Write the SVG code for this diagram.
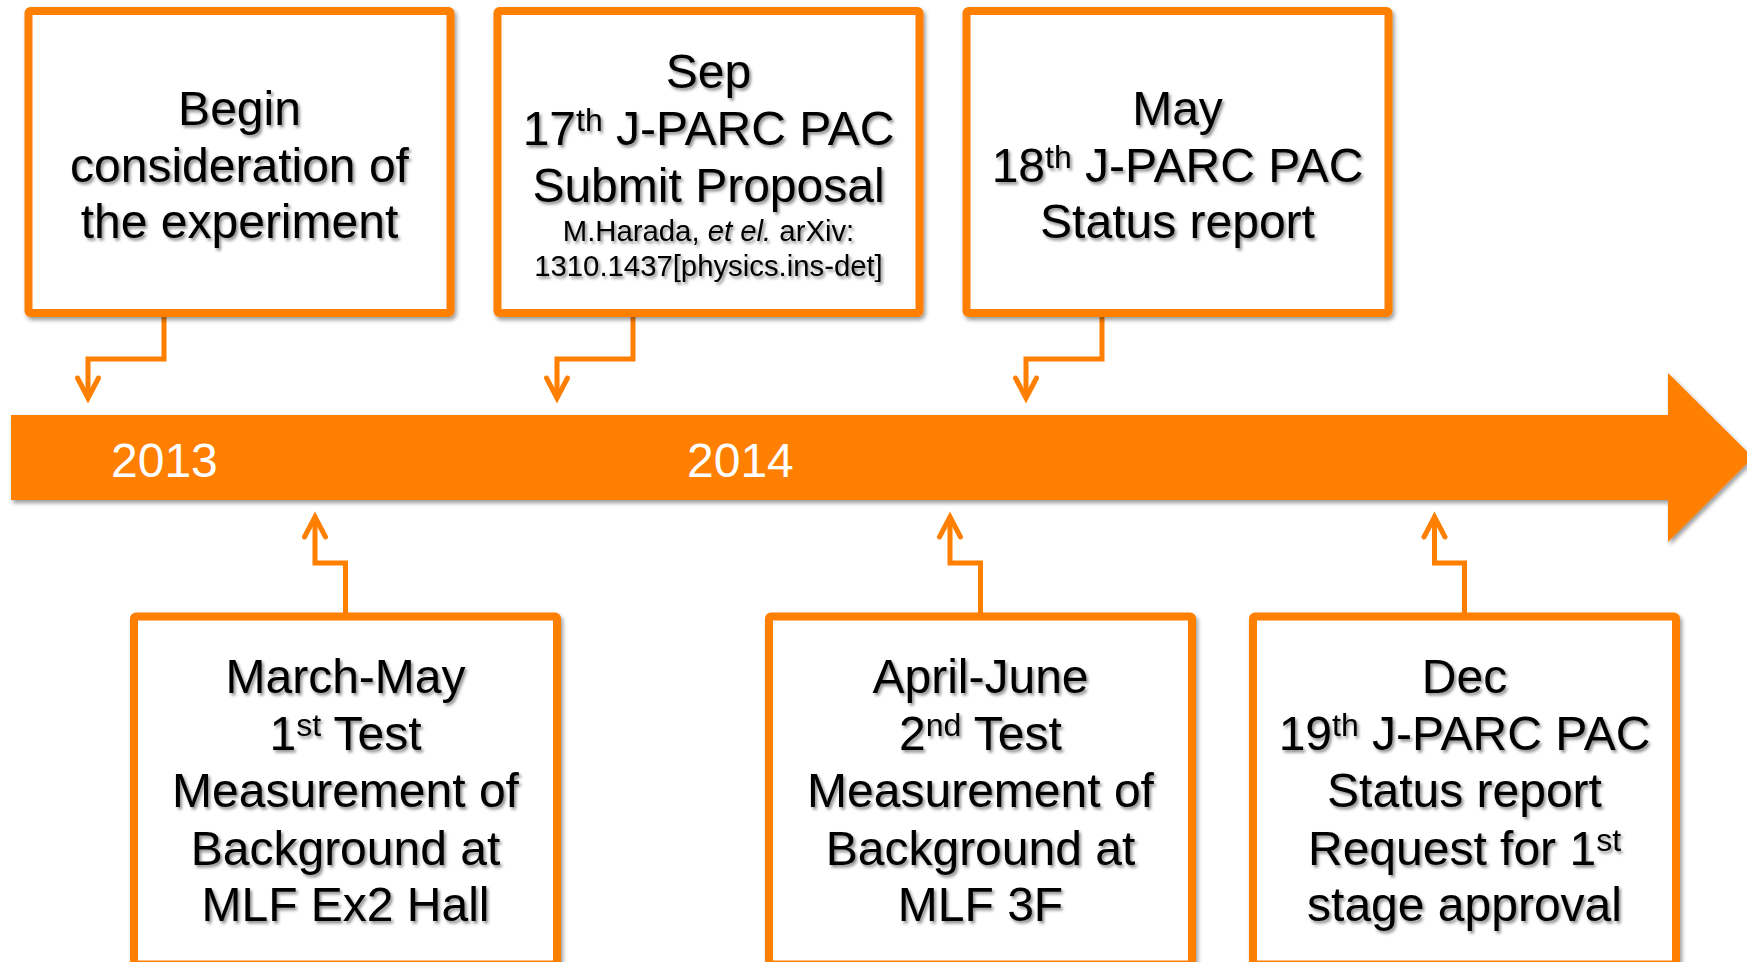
<svg xmlns="http://www.w3.org/2000/svg" width="1747" height="962" viewBox="0 0 1747 962">
  <defs>
    <filter id="shadow" x="-5%" y="-10%" width="115%" height="125%">
      <feDropShadow dx="2" dy="3" stdDeviation="2" flood-color="#000" flood-opacity="0.4"/>
    </filter>
    <filter id="tshadow" x="-5%" y="-20%" width="115%" height="150%">
      <feDropShadow dx="2" dy="2.5" stdDeviation="1.8" flood-color="#000" flood-opacity="0.45"/>
    </filter>
    <marker id="chev" markerUnits="userSpaceOnUse" orient="auto" refX="0" refY="0" markerWidth="40" markerHeight="40" overflow="visible">
      <path d="M-20,-10.5 L0,0 L-20,10.5" fill="none" stroke="#FF7F00" stroke-width="5" stroke-linecap="round"/>
    </marker>
  </defs>
  <style>
    .box{fill:#fff;stroke:#FF7F00;stroke-width:8;filter:url(#shadow)}
    .lbl{font-family:"Liberation Sans",Arial,sans-serif;font-size:48px;fill:#000;text-anchor:middle;filter:url(#tshadow)}
    .sm{font-size:29.3px}
    .sup{font-size:32px}
    .conn{fill:none;stroke:#FF7F00;stroke-width:5;stroke-linejoin:miter;marker-end:url(#chev)}
    .year{font-family:"Liberation Sans",Arial,sans-serif;font-size:48px;fill:#fff}
  </style>

  <rect width="1747" height="962" fill="#fff"/>

  <!-- timeline arrow -->
  <g id="timeline">
    <polygon points="11,415 1668,415 1668,373 1753,457.5 1668,542 1668,500 11,500" fill="#FF7F00" filter="url(#shadow)"/>
    <text class="year" x="111" y="477">2013</text>
    <text class="year" x="687" y="477">2014</text>
  </g>

  <!-- connectors -->
  <g id="connectors">
    <path class="conn" d="M164,313 V359 H88 V398"/>
    <path class="conn" d="M633,313 V359 H557 V398"/>
    <path class="conn" d="M1102,313 V359 H1026 V398"/>
    <path class="conn" d="M345.5,616 V563 H315 V517"/>
    <path class="conn" d="M980.5,616 V563 H950 V517"/>
    <path class="conn" d="M1464.5,616 V563 H1434.5 V517"/>
  </g>

  <g id="begin">
    <rect class="box" x="28.5" y="11" width="422" height="302" rx="2"/>
    <text class="lbl" x="239.5" y="125">Begin</text>
    <text class="lbl" x="239.5" y="181.5">consideration of</text>
    <text class="lbl" x="239.5" y="238">the experiment</text>
  </g>

  <g id="pac17">
    <rect class="box" x="497.5" y="11" width="422" height="302" rx="2"/>
    <text class="lbl" x="708.5" y="88">Sep</text>
    <text class="lbl" x="708.5" y="145">17<tspan class="sup" dy="-14">th</tspan><tspan dy="14"> J-PARC PAC</tspan></text>
    <text class="lbl" x="708.5" y="202">Submit Proposal</text>
    <text class="lbl sm" x="708.5" y="241">M.Harada, <tspan font-style="italic">et el.</tspan> arXiv:</text>
    <text class="lbl sm" x="708.5" y="276">1310.1437[physics.ins-det]</text>
  </g>

  <g id="pac18">
    <rect class="box" x="966.5" y="11" width="422" height="302" rx="2"/>
    <text class="lbl" x="1177.5" y="125">May</text>
    <text class="lbl" x="1177.5" y="181.5">18<tspan class="sup" dy="-14">th</tspan><tspan dy="14"> J-PARC PAC</tspan></text>
    <text class="lbl" x="1177.5" y="238">Status report</text>
  </g>

  <g id="test1">
    <rect class="box" x="134" y="616.5" width="423" height="348" rx="2"/>
    <text class="lbl" x="345.5" y="692.5">March-May</text>
    <text class="lbl" x="345.5" y="750">1<tspan class="sup" dy="-14">st</tspan><tspan dy="14"> Test</tspan></text>
    <text class="lbl" x="345.5" y="806.5">Measurement of</text>
    <text class="lbl" x="345.5" y="864.5">Background at</text>
    <text class="lbl" x="345.5" y="920.5">MLF Ex2 Hall</text>
  </g>

  <g id="test2">
    <rect class="box" x="769" y="616.5" width="423" height="348" rx="2"/>
    <text class="lbl" x="980.5" y="692.5">April-June</text>
    <text class="lbl" x="980.5" y="750">2<tspan class="sup" dy="-14">nd</tspan><tspan dy="14"> Test</tspan></text>
    <text class="lbl" x="980.5" y="806.5">Measurement of</text>
    <text class="lbl" x="980.5" y="864.5">Background at</text>
    <text class="lbl" x="980.5" y="920.5">MLF 3F</text>
  </g>

  <g id="pac19">
    <rect class="box" x="1253" y="616.5" width="423" height="348" rx="2"/>
    <text class="lbl" x="1464.5" y="692.5">Dec</text>
    <text class="lbl" x="1464.5" y="750">19<tspan class="sup" dy="-14">th</tspan><tspan dy="14"> J-PARC PAC</tspan></text>
    <text class="lbl" x="1464.5" y="806.5">Status report</text>
    <text class="lbl" x="1464.5" y="864.5">Request for 1<tspan class="sup" dy="-14">st</tspan></text>
    <text class="lbl" x="1464.5" y="920.5">stage approval</text>
  </g>
</svg>
